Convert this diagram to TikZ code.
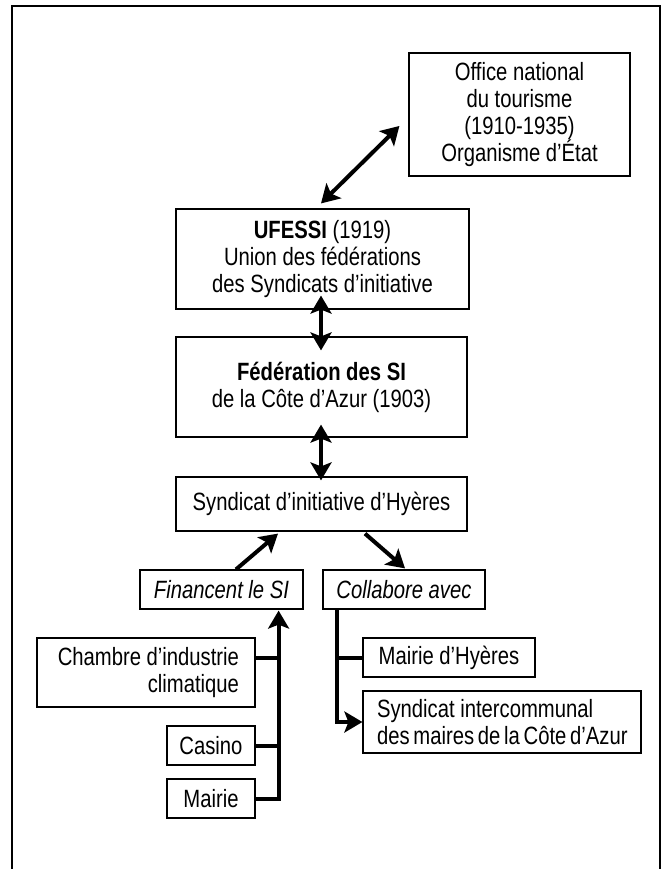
\documentclass[tikz,border=0pt]{standalone}
\usepackage{fontspec}
\setmainfont{Liberation Sans}[FakeStretch=0.81]
\usetikzlibrary{arrows.meta,calc}

\begin{document}
\begin{tikzpicture}[x=1pt, y=-1pt,
    box/.style={rectangle, draw, line width=1.2pt, inner sep=0pt, align=center, font=\fontsize{25}{27}\selectfont},
    link/.style={line width=4pt},
    arrow/.style={link, -{Stealth[length=18pt, width=21pt, inset=4pt]}},
    both/.style={link, {Stealth[length=18pt, width=21pt, inset=4pt]}-{Stealth[length=18pt, width=21pt, inset=4pt]}}
]
    \useasboundingbox (0,0) rectangle (669,869);

    % Cadre
    \draw[line width=1.5pt] (12,6) rectangle (660,880);

    % Organismes nationaux
    \node[box, minimum width=221pt, minimum height=123pt] (office) at (519.5,114.5)
        {Office national\\du tourisme\\(1910-1935)\\Organisme d’État};
    \node[box, minimum width=293pt, minimum height=100pt] (ufessi) at (322.5,259)
        {\textbf{UFESSI} (1919)\\Union des fédérations\\des Syndicats d’initiative};
    \node[box, minimum width=291pt, minimum height=100pt] (fed) at (321.5,387)
        {\textbf{Fédération des SI}\\de la Côte d’Azur (1903)};
    \node[box, minimum width=291pt, minimum height=54pt] (si) at (321.5,504)
        {Syndicat d’initiative d’Hyères};

    % Financement et collaboration
    \node[box, minimum width=163pt, minimum height=39pt] (fin) at (221.5,589.5) {\itshape Financent le SI};
    \node[box, minimum width=162pt, minimum height=39pt] (collab) at (404,589.5) {\itshape Collabore avec};

    \node[box, minimum width=218pt, minimum height=69pt, text width=186pt, align=flush right] (chambre) at (146,672.5)
        {Chambre~d’industrie\\climatique};
    \node[box, minimum width=88pt, minimum height=39pt] (casino) at (211,745.5) {Casino};
    \node[box, minimum width=88pt, minimum height=39pt] (mairie) at (211,798.5) {Mairie};

    \node[box, minimum width=172pt, minimum height=39pt] (mairieh) at (449,657.5) {Mairie d’Hyères};
    \node[box, minimum width=278pt, minimum height=62pt, text width=250pt, align=flush left] (sic) at (502,722)
        {Syndicat~intercommunal\\des~maires~de~la~Côte~d’Azur};

    % Flèches entre niveaux
    \draw[both] ($(ufessi.north)+(-1.5,-5)$) -- ($(office.west)+(-9,11.5)$);
    \draw[both] ($(ufessi.south)+(-1.5,-14)$) -- ($(fed.north)+(-0.5,14)$);
    \draw[both] ($(fed.south)+(-0.5,-13)$) -- ($(si.north)+(-0.5,4)$);
    \draw[arrow] ($(fin.north)+(14.5,0)$) -- ($(si.south)+(-43.5,2)$);
    \draw[arrow] ($(si.south)+(43.5,2)$) -- ($(collab.north)+(1,-1)$);

    % Branches
    \coordinate (finbus) at ($(fin.south east)+(-25,1)$);
    \coordinate (colbus) at ($(collab.south west)+(15,0)$);
    \draw[arrow] (mairie.east) -| (finbus);
    \draw[link] ([yshift=14.5pt]chambre.east) -- ([yshift=14.5pt]chambre.east -| finbus);
    \draw[link] (casino.east) -- (casino.east -| finbus);
    \draw[arrow] (colbus) |- (sic.west);
    \draw[link] (mairieh.west) -- (mairieh.west -| colbus);
\end{tikzpicture}
\end{document}
